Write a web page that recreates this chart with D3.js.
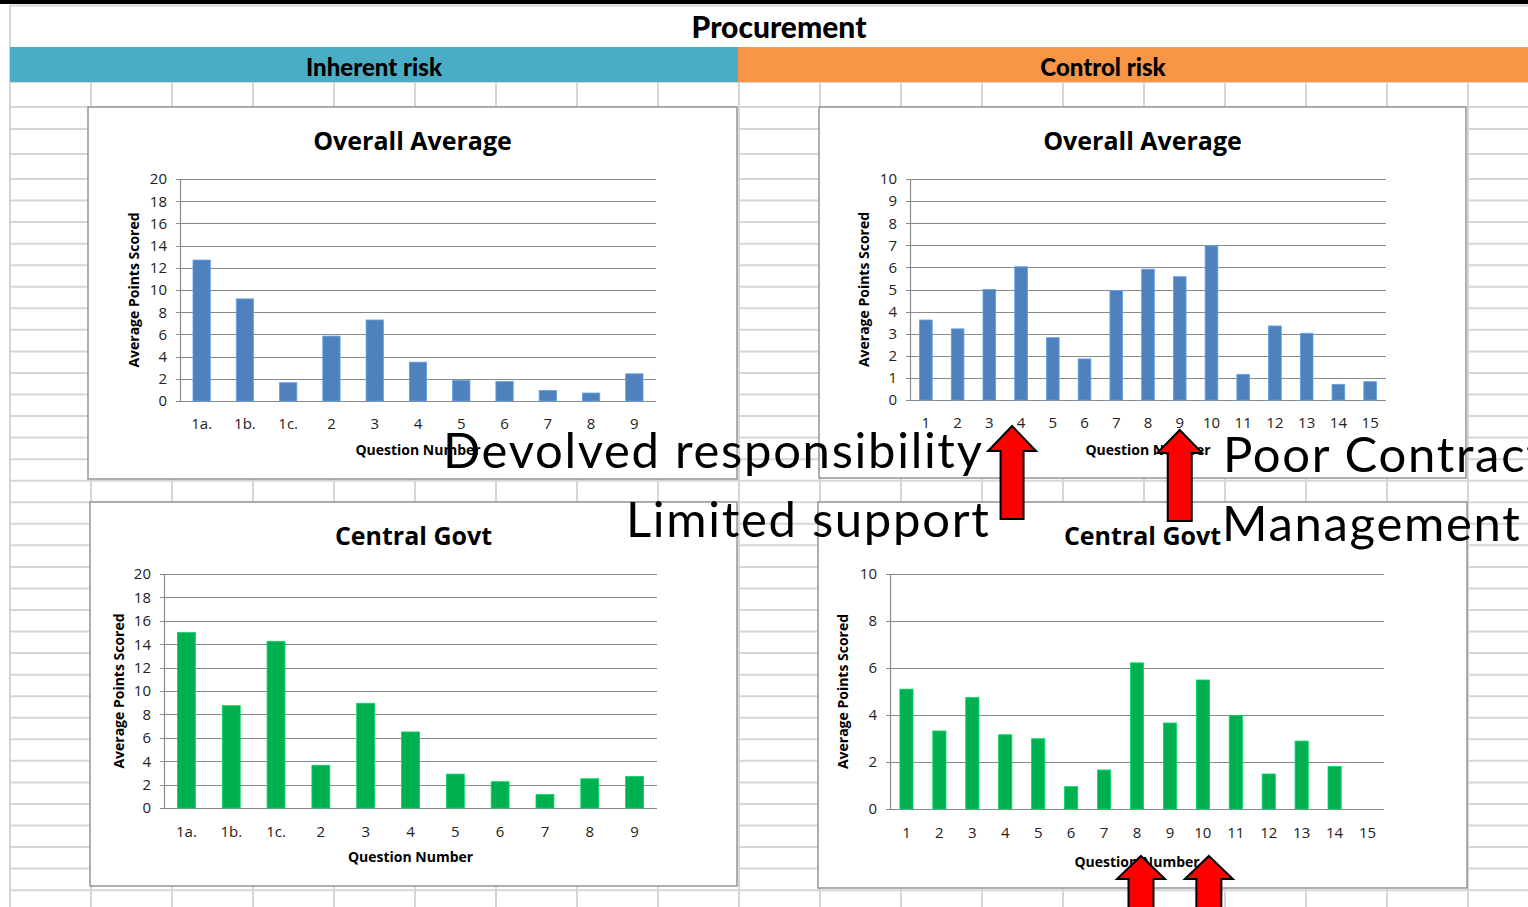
<!DOCTYPE html>
<html>
<head>
<meta charset="utf-8">
<script src="https://cdn.jsdelivr.net/npm/d3@7"></script>
<style>
  html, body { margin: 0; padding: 0; background: #fff; overflow: hidden; }
  svg { display: block; }
  .tick text { font-family: "Open Sans", sans-serif; }
</style>
</head>
<body>
<svg id="sheet" width="1528" height="907"></svg>
<script>
// Question labels
const inherentQuestions = ["1a.", "1b.", "1c.", "2", "3", "4", "5", "6", "7", "8", "9"];
const controlQuestions = ["1", "2", "3", "4", "5", "6", "7", "8", "9", "10", "11", "12", "13", "14", "15"];

// Average points scored per question
const inherentOverall = [12.7, 9.2, 1.65, 5.85, 7.3, 3.5, 1.85, 1.75, 0.95, 0.72, 2.45];
const inherentCentral = [15.0, 8.75, 14.25, 3.65, 8.95, 6.5, 2.9, 2.25, 1.15, 2.5, 2.7];
const controlOverall = [3.62, 3.22, 5.0, 6.03, 2.82, 1.86, 4.95, 5.92, 5.58, 6.97, 1.16, 3.35, 3.02, 0.71, 0.83];
const controlCentral = [5.1, 3.32, 4.74, 3.16, 2.99, 0.95, 1.66, 6.22, 3.66, 5.49, 3.98, 1.49, 2.89, 1.81, 0];

// Value-axis ticks
const inherentTicks = [0, 2, 4, 6, 8, 10, 12, 14, 16, 18, 20];
const controlOverallTicks = [0, 1, 2, 3, 4, 5, 6, 7, 8, 9, 10];
const controlCentralTicks = [0, 2, 4, 6, 8, 10];

// Headings and call-outs
const sheetTitle = "Procurement";
const sectionTitles = ["Inherent risk", "Control risk"];
const chartTitles = ["Overall Average", "Central Govt"];
const valueAxisTitle = "Average Points Scored";
const categoryAxisTitle = "Question Number";

const W = 1528, H = 907;
const svg = d3.select("#sheet");
const GRID = "#d6d6d6";
const BLUE = "#4F81BD", GREEN = "#00B050";

// ---------- worksheet background ----------
svg.append("rect").attr("width", W).attr("height", H).attr("fill", "#fff");

const grid = svg.append("g").attr("stroke", GRID).attr("stroke-width", 2);
const rowLines = [82, 107, 129, 154];
for (let y = 179; y < H; y += 21.55) rowLines.push(y);
grid.selectAll("line.row").data(rowLines).join("line")
  .attr("x1", 10).attr("x2", W).attr("y1", d => d).attr("y2", d => d);
const colLines = d3.range(10, W, 81);
grid.selectAll("line.col").data(colLines).join("line")
  .attr("x1", d => d).attr("x2", d => d).attr("y1", d => d === 10 ? 5 : 82).attr("y2", H);
grid.append("line").attr("x1", 10).attr("x2", W).attr("y1", 5.5).attr("y2", 5.5);

// black strip along the top
svg.append("rect").attr("x", 0).attr("y", 0).attr("width", W).attr("height", 4).attr("fill", "#000");

// section bands
svg.append("rect").attr("x", 10).attr("y", 47).attr("width", 728).attr("height", 35).attr("fill", "#4BACC6");
svg.append("rect").attr("x", 738).attr("y", 47).attr("width", W - 738).attr("height", 35).attr("fill", "#F79646");

const headFont = "Lato, 'DejaVu Sans', sans-serif";
svg.append("text").attr("x", 779).attr("y", 38).attr("text-anchor", "middle")
  .attr("font-family", headFont).attr("font-weight", 900).attr("font-size", 30).text(sheetTitle);
svg.append("text").attr("x", 374).attr("y", 76).attr("text-anchor", "middle")
  .attr("font-family", headFont).attr("font-weight", 900).attr("font-size", 24).text(sectionTitles[0]);
svg.append("text").attr("x", 1103).attr("y", 76).attr("text-anchor", "middle")
  .attr("font-family", headFont).attr("font-weight", 900).attr("font-size", 24).text(sectionTitles[1]);

// ---------- charts ----------
const charts = [
  { key: "inhOverall", title: chartTitles[0], cats: inherentQuestions, values: inherentOverall, ticks: inherentTicks, color: BLUE,
    panel: [88, 107, 737, 479], plot: [180, 179, 656, 401], titleY: 150, xLabGap: 18, xTitleY: 455, yTitleX: 139 },
  { key: "ctlOverall", title: chartTitles[0], cats: controlQuestions, values: controlOverall, ticks: controlOverallTicks, color: BLUE,
    panel: [819, 107, 1466, 478], plot: [910, 179, 1386, 400], titleY: 150, xLabGap: 18, xTitleY: 455, yTitleX: 869 },
  { key: "inhCentral", title: chartTitles[1], cats: inherentQuestions, values: inherentCentral, ticks: inherentTicks, color: GREEN,
    panel: [90, 502, 737, 886], plot: [164, 574, 657, 808], titleY: 545, xLabGap: 19, xTitleY: 862, yTitleX: 124 },
  { key: "ctlCentral", title: chartTitles[1], cats: controlQuestions, values: controlCentral, ticks: controlCentralTicks, color: GREEN,
    panel: [818, 502, 1467, 888], plot: [890, 574, 1384, 809], titleY: 545, xLabGap: 19, xTitleY: 867, yTitleX: 848 }
];

const scales = {};
const labelFont = "'Open Sans', 'Noto Sans', sans-serif";

charts.forEach(c => {
  const [px0, py0, px1, py1] = c.panel;
  const [l, t, r, b] = c.plot;
  const g = svg.append("g").attr("class", "chart " + c.key);

  g.append("rect").attr("x", px0).attr("y", py0).attr("width", px1 - px0).attr("height", py1 - py0)
    .attr("fill", "#fff").attr("stroke", "#959595").attr("stroke-width", 1.5);

  const x = d3.scaleBand().domain(c.cats).range([l, r]).paddingInner(0.6).paddingOuter(0.3);
  const y = d3.scaleLinear().domain([0, d3.max(c.ticks)]).range([b, t]);
  scales[c.key] = { x, y };

  // horizontal gridlines (including the category axis at zero)
  g.append("g").selectAll("line").data(c.ticks).join("line")
    .attr("x1", l - 4).attr("x2", r)
    .attr("y1", d => Math.round(y(d)) + 0.5).attr("y2", d => Math.round(y(d)) + 0.5)
    .attr("stroke", "#8a8a8a").attr("stroke-width", 1.2);

  // value axis
  const ya = g.append("g").attr("transform", `translate(${l},0)`)
    .call(d3.axisLeft(y).tickValues(c.ticks).tickSize(0).tickPadding(13).tickFormat(d3.format("d")));
  ya.select(".domain").attr("stroke", "#8a8a8a").attr("stroke-width", 1.2);
  ya.selectAll("text").attr("font-size", 15).attr("fill", "#222");

  // category labels
  const xa = g.append("g").attr("transform", `translate(0,${b})`)
    .call(d3.axisBottom(x).tickSize(0).tickPadding(c.xLabGap - 1));
  xa.select(".domain").remove();
  xa.selectAll("text").attr("font-size", 15).attr("fill", "#222");

  // bars
  g.append("g").selectAll("rect").data(c.values.map((v, i) => ({ q: c.cats[i], v }))).join("rect")
    .attr("x", d => x(d.q)).attr("width", x.bandwidth())
    .attr("y", d => y(d.v)).attr("height", d => y(0) - y(d.v))
    .attr("fill", c.color)
    .attr("stroke", d3.color(c.color).brighter(0.6)).attr("stroke-width", 0.8);

  // titles
  g.append("text").attr("x", (px0 + px1) / 2).attr("y", c.titleY).attr("text-anchor", "middle")
    .attr("font-family", labelFont).attr("font-weight", 700).attr("font-size", 25).attr("fill", "#000")
    .text(c.title);
  g.append("text").attr("x", (l + r) / 2).attr("y", c.xTitleY).attr("text-anchor", "middle")
    .attr("font-family", labelFont).attr("font-weight", 700).attr("font-size", 14).attr("fill", "#000")
    .text(categoryAxisTitle);
  g.append("text").attr("transform", `translate(${c.yTitleX},${(t + b) / 2}) rotate(-90)`).attr("text-anchor", "middle")
    .attr("font-family", labelFont).attr("font-weight", 700).attr("font-size", 14).attr("fill", "#000")
    .text(valueAxisTitle);
});

// ---------- call-outs ----------
const calloutFont = "Lato, 'DejaVu Sans', sans-serif";
const callouts = [
  { text: "Devolved responsibility", x: 443, y: 468 },
  { text: "Limited support", x: 626, y: 537 },
  { text: "Poor Contract", x: 1223, y: 472 },
  { text: "Management", x: 1222, y: 541 }
];
svg.append("g").selectAll("text").data(callouts).join("text")
  .attr("x", d => d.x).attr("y", d => d.y)
  .attr("font-family", calloutFont).attr("font-size", 49).attr("letter-spacing", 1.7).attr("fill", "#000")
  .text(d => d.text);

// block arrows pointing up at the questions being discussed
const arrows = [
  { chart: "ctlOverall", q: "4", dx: -9, tipY: 426, head: 25, half: 24, shaft: 11.5, len: 93 },
  { chart: "ctlOverall", q: "9", dx: 0, tipY: 430, head: 23, half: 22.5, shaft: 12, len: 91 },
  { chart: "ctlCentral", q: "8", dx: 4, tipY: 856, head: 23, half: 24, shaft: 12.5, len: 70 },
  { chart: "ctlCentral", q: "10", dx: 6, tipY: 856, head: 23, half: 24, shaft: 12.5, len: 70 }
];
svg.append("g").selectAll("path").data(arrows).join("path")
  .attr("d", a => {
    const s = scales[a.chart].x;
    const cx = s(a.q) + s.bandwidth() / 2 + a.dx, ty = a.tipY;
    return `M${cx},${ty} L${cx + a.half},${ty + a.head} L${cx + a.shaft},${ty + a.head} L${cx + a.shaft},${ty + a.len}
            L${cx - a.shaft},${ty + a.len} L${cx - a.shaft},${ty + a.head} L${cx - a.half},${ty + a.head} Z`;
  })
  .attr("fill", "#FF0000").attr("stroke", "#000").attr("stroke-width", 2).attr("stroke-linejoin", "miter");
</script>
</body>
</html>
